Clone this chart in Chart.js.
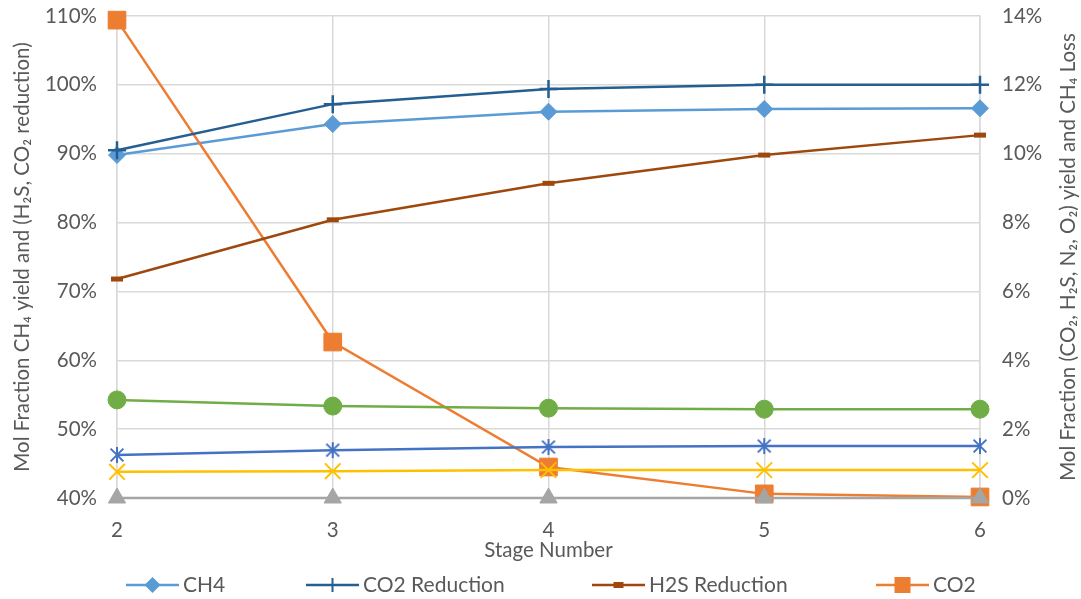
<!DOCTYPE html>
<html lang="en">
  <head>
    <meta charset="UTF-8" />
    <title>Mol Fraction by Stage</title>
    <script src="https://cdn.jsdelivr.net/npm/chart.js"></script>
    <style>
      html, body { margin: 0; padding: 0; background: #fff; }
      #wrap { position: relative; width: 1081px; height: 599px; }
    </style>
  </head>
  <body>
    <div id="wrap"><canvas id="stageChart" width="1081" height="599"></canvas></div>

    <script>
      // values (percent)
      const stages = ["2", "3", "4", "5", "6"];
      const ch4Yield = [89.8, 94.3, 96.1, 96.5, 96.6];
      const co2Reduction = [90.5, 97.2, 99.4, 100.0, 100.0];
      const h2sReduction = [71.8, 80.4, 85.7, 89.8, 92.7];
      const co2Frac = [13.88, 4.53, 0.9, 0.12, 0.03];
      const h2sFrac = [0, 0, 0, 0, 0];
      const n2Frac = [0.76, 0.78, 0.81, 0.81, 0.81];
      const o2Frac = [1.25, 1.39, 1.48, 1.51, 1.51];
      const ch4Loss = [2.85, 2.67, 2.61, 2.58, 2.58];

      const leftTicks = [40, 50, 60, 70, 80, 90, 100, 110];
      const rightTicks = [0, 2, 4, 6, 8, 10, 12, 14];
      const legendNames = ["CH4", "CO2 Reduction", "H2S Reduction", "CO2"];

      const FONT = "Lato, 'DejaVu Sans', sans-serif";
      const TEXT = "#595959";
      const GRID = "#D9D9D9";
      const FS = 20.5;

      // excel style asterisk marker: X plus a vertical bar
      function asterisk(color, size) {
        const c = document.createElement("canvas");
        c.width = size;
        c.height = size;
        const g = c.getContext("2d");
        const m = size / 2, r = size / 2 - 1;
        g.strokeStyle = color;
        g.lineWidth = 2;
        g.beginPath();
        g.moveTo(m, m - r); g.lineTo(m, m + r);
        g.moveTo(m - r * 0.8, m - r * 0.8); g.lineTo(m + r * 0.8, m + r * 0.8);
        g.moveTo(m + r * 0.8, m - r * 0.8); g.lineTo(m - r * 0.8, m + r * 0.8);
        g.stroke();
        return c;
      }

      function series(label, data, color, axis, style, radius, order, extra) {
        return Object.assign({
          label: label,
          data: data,
          yAxisID: axis,
          borderColor: color,
          backgroundColor: color,
          pointBackgroundColor: color,
          pointBorderColor: color,
          borderWidth: 2.5,
          pointStyle: style,
          pointRadius: radius,
          pointHoverRadius: radius,
          pointBorderWidth: 1,
          tension: 0,
          fill: false,
          clip: false,
          order: order,
        }, extra || {});
      }

      const datasets = [
        series("CH4", ch4Yield, "#5B9BD5", "y", "rectRot", 8.5, 8),
        series("CO2 Reduction", co2Reduction, "#255E91", "y", "cross", 9, 2, { pointBorderWidth: 2.5 }),
        series("H2S Reduction", h2sReduction, "#9E480E", "y", "line", 6, 1, { pointBorderWidth: 5 }),
        series("CO2", co2Frac, "#ED7D31", "y2", "rect", 12.5, 7),
        series("H2S", h2sFrac, "#A5A5A5", "y2", "triangle", 10, 6),
        series("N2", n2Frac, "#FFC000", "y2", "crossRot", 11, 5, { pointBorderWidth: 2 }),
        series("O2", o2Frac, "#4472C4", "y2", asterisk("#4472C4", 18), 9, 4),
        series("CH4 Loss", ch4Loss, "#70AD47", "y2", "circle", 9, 3),
      ];

      // legend row and right axis title drawn by hand to match the Excel layout
      const extras = {
        id: "extras",
        afterDraw(chart) {
          const ctx = chart.ctx;
          const area = chart.chartArea;
          ctx.save();

          // right axis title, reading bottom to top
          ctx.translate(1068, (area.top + area.bottom) / 2);
          ctx.rotate(-Math.PI / 2);
          ctx.font = FS + "px " + FONT;
          ctx.fillStyle = TEXT;
          ctx.textAlign = "center";
          ctx.textBaseline = "middle";
          ctx.fillText("Mol Fraction (CO\u2082, H\u2082S, N\u2082, O\u2082) yield and CH\u2084 Loss", 0, 0);
          ctx.restore();

          ctx.save();
          const starts = [126, 306, 592, 876];
          const y = 585;
          legendNames.forEach((name, i) => {
            const ds = chart.data.datasets.find((d) => d.label === name);
            const x0 = starts[i];
            const c = ds.borderColor;
            const mx = x0 + 26.5;
            ctx.strokeStyle = c;
            ctx.fillStyle = c;
            ctx.lineWidth = 2.5;
            ctx.beginPath();
            ctx.moveTo(x0, y);
            ctx.lineTo(x0 + 53, y);
            ctx.stroke();
            ctx.beginPath();
            if (ds.pointStyle === "rectRot") {
              ctx.moveTo(mx, y - 8); ctx.lineTo(mx + 8, y); ctx.lineTo(mx, y + 8); ctx.lineTo(mx - 8, y);
              ctx.closePath(); ctx.fill();
            } else if (ds.pointStyle === "cross") {
              ctx.lineWidth = 2;
              ctx.moveTo(mx, y - 7); ctx.lineTo(mx, y + 7); ctx.stroke();
            } else if (ds.pointStyle === "line") {
              ctx.fillRect(mx - 5, y - 3, 10, 6);
            } else if (ds.pointStyle === "rect") {
              ctx.fillRect(mx - 8, y - 8, 16, 16);
            }
            ctx.font = "21px " + FONT;
            ctx.fillStyle = TEXT;
            ctx.textAlign = "left";
            ctx.textBaseline = "middle";
            ctx.fillText(name, x0 + 57, y);
          });
          ctx.restore();
        },
      };

      const noVPad = (scale, w) => {
        scale.width = w;
        scale.paddingTop = 0;
        scale.paddingBottom = 0;
      };

      const ctx = document.getElementById("stageChart").getContext("2d");
      const stageChart = new Chart(ctx, {
        type: "line",
        data: { labels: stages, datasets: datasets },
        plugins: [extras],
        options: {
          responsive: false,
          animation: false,
          layout: { padding: { top: 16, bottom: 35, left: 0, right: 0 } },
          plugins: { legend: { display: false }, tooltip: { enabled: false } },
          scales: {
            x: {
              type: "category",
              offset: false,
              grid: { color: GRID, lineWidth: 1.5, drawTicks: false },
              border: { display: false },
              ticks: { color: TEXT, font: { family: FONT, size: FS }, padding: 20 },
              title: {
                display: true,
                text: "Stage Number",
                color: TEXT,
                font: { family: FONT, size: FS },
                padding: { top: 0, bottom: 1 },
              },
              afterFit: (scale) => { scale.height = 66; },
            },
            y: {
              position: "left",
              min: leftTicks[0],
              max: leftTicks[leftTicks.length - 1],
              afterBuildTicks: (scale) => { scale.ticks = leftTicks.map((v) => ({ value: v })); },
              grid: { color: GRID, lineWidth: 1.5, drawTicks: false },
              border: { display: true, color: GRID, width: 1.5 },
              ticks: {
                color: TEXT,
                font: { family: FONT, size: FS },
                padding: 20,
                callback: (v) => v + "%",
              },
              title: {
                display: true,
                text: "Mol Fraction CH\u2084 yield and (H\u2082S, CO\u2082 reduction)",
                color: TEXT,
                font: { family: FONT, size: FS },
                padding: { top: 10, bottom: 0 },
              },
              afterFit: (scale) => noVPad(scale, 117),
            },
            y2: {
              position: "right",
              min: rightTicks[0],
              max: rightTicks[rightTicks.length - 1],
              afterBuildTicks: (scale) => { scale.ticks = rightTicks.map((v) => ({ value: v })); },
              grid: { display: false, drawTicks: false },
              border: { display: true, color: GRID, width: 1.5 },
              ticks: {
                color: TEXT,
                font: { family: FONT, size: FS },
                padding: 22,
                callback: (v) => v + "%",
              },
              afterFit: (scale) => noVPad(scale, 101),
            },
          },
        },
      });
    </script>
  </body>
</html>
